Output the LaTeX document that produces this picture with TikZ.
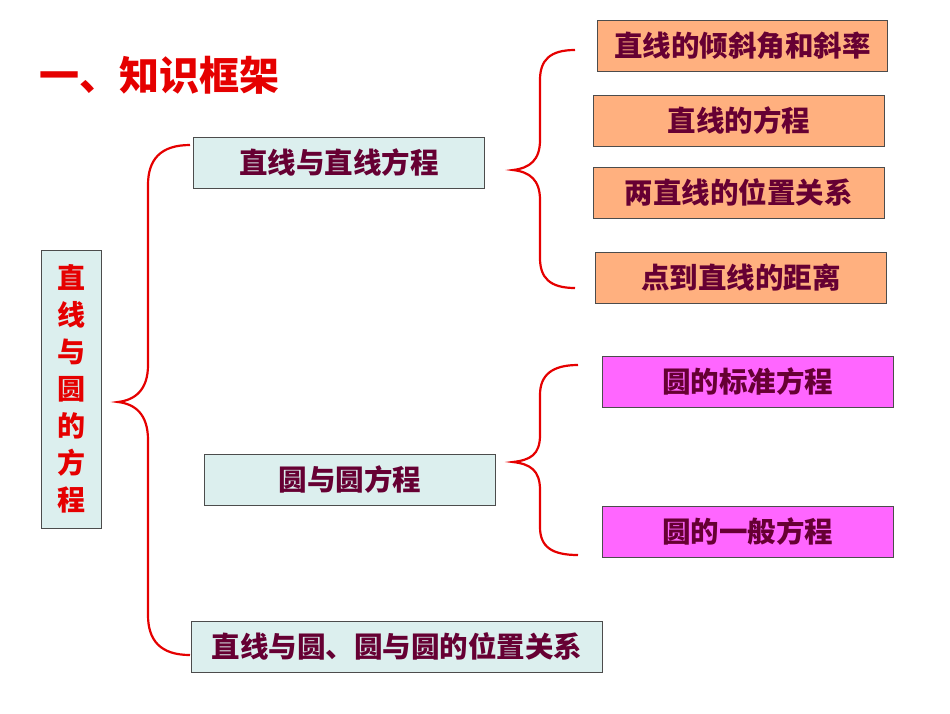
\documentclass[tikz,border=0pt]{standalone}
\usepackage{fontspec}
\newfontfamily\cjk{Noto Sans CJK SC}
\definecolor{cyf}{HTML}{DCEFEE}
\definecolor{ogf}{HTML}{FFB07F}
\definecolor{mgf}{HTML}{FF66FF}
\definecolor{txt}{HTML}{660033}
\begin{document}
\begin{tikzpicture}[x=1pt,y=-1pt,
  box/.style={draw=black!70,line width=0.8pt,minimum height=51pt,inner sep=0pt,font=\cjk\bfseries\fontsize{28.5}{30}\selectfont,text=txt,anchor=north west},
  cy/.style={box,fill=cyf},
  og/.style={box,fill=ogf},
  mg/.style={box,fill=mgf},
  br/.style={draw=red!90!black,line width=2.2pt}]
\useasboundingbox (0,0) rectangle (950,713);
\node[anchor=west,text=red!90!black,font=\cjk\bfseries\fontsize{40}{42}\selectfont] (title) at (36,75) {一、知识框架};
\node[draw=black!70,fill=cyf,anchor=north west,minimum width=60pt,minimum height=278pt,inner sep=0pt,align=center,text=red!90!black,font=\cjk\bfseries\fontsize{28}{37}\selectfont] (left) at (41,250) {直\\线\\与\\圆\\的\\方\\程};
\node[cy,minimum width=291pt] (a) at (193,137) {直线与直线方程};
\node[cy,minimum width=291pt] (b) at (204,454) {圆与圆方程};
\node[cy,minimum width=411pt] (c) at (191,621) {直线与圆、圆与圆的位置关系};
\node[og,minimum width=290pt] (a1) at (597,20) {直线的倾斜角和斜率};
\node[og,minimum width=291pt] (a2) at (593,95) {直线的方程};
\node[og,minimum width=291pt] (a3) at (593,167) {两直线的位置关系};
\node[og,minimum width=291pt] (a4) at (595,252) {点到直线的距离};
\node[mg,minimum width=291pt] (b1) at (602,356) {圆的标准方程};
\node[mg,minimum width=291pt] (b2) at (602,506) {圆的一般方程};
% braces
\draw[br] (190,145) .. controls (160,145) and (148,160) .. (148,185) -- (148,365) .. controls (148,390) and (135,400) .. (118,402)
  .. controls (135,404) and (148,414) .. (148,440) -- (148,615) .. controls (148,640) and (160,655) .. (190,655);
\draw[br] (575,50) .. controls (550,50) and (540,60) .. (540,80) -- (540,140) .. controls (540,160) and (530,168) .. (513,170)
  .. controls (530,172) and (540,180) .. (540,200) -- (540,258) .. controls (540,278) and (550,288) .. (575,288);
\draw[br] (578,365) .. controls (552,365) and (540,375) .. (540,395) -- (540,435) .. controls (540,455) and (530,460) .. (513,462)
  .. controls (530,464) and (540,470) .. (540,490) -- (540,527) .. controls (540,547) and (552,555) .. (578,555);
\end{tikzpicture}
\end{document}
